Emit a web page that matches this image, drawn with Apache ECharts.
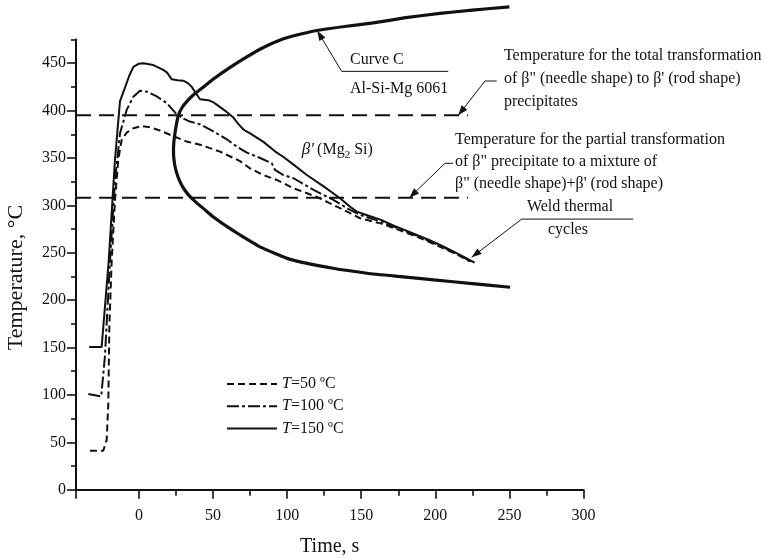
<!DOCTYPE html>
<html>
<head>
<meta charset="utf-8">
<script src="https://cdn.jsdelivr.net/npm/echarts@6/dist/echarts.min.js"></script>
<style>
  html, body { margin: 0; padding: 0; background: #ffffff; }
  #chart { width: 766px; height: 558px; }
</style>
</head>
<body>
<div id="chart"></div>
<script>
// ---- axis ticks -------------------------------------------------------
const timeTicks = [0, 50, 100, 150, 200, 250, 300];          // s
const timeMinorTicks = [25, 75, 125, 175, 225, 275];
const tempTicks = [0, 50, 100, 150, 200, 250, 300, 350, 400, 450]; // °C
const tempMinorTicks = [25, 75, 125, 175, 225, 275, 325, 375, 425, 475];

// ---- transformation temperatures (horizontal dashed lines) -------------
const totalTransformTemp = 395;    // β'' -> β'
const partialTransformTemp = 308;  // β'' -> β'' + β'
const transformSpan = [-42.5, 222];

// ---- weld thermal cycles: [time s, temperature °C] ---------------------
const weldT50 = [
  [-33.1, 41.2], [-24.1, 41.2], [-21.8, 52.5], [-20.7, 91], [-20, 172], [-18.4, 242],
  [-16.2, 305], [-14, 348], [-11.7, 369], [-8.3, 376.7], [-3.8, 381.4], [1.8, 383.7],
  [7.4, 382.4], [14.2, 379], [23.2, 373], [32.2, 367.3], [41.2, 364], [54.7, 356.7],
  [68.2, 346.7], [75, 339], [84, 332], [93, 326.8], [104.3, 318], [120, 309],
  [131.2, 300.5], [142.5, 291.7], [149.2, 286.4], [163, 281], [172, 276], [185, 268.5],
  [195, 262], [205, 255], [215, 248], [223, 241]
];
const weldT100 = [
  [-34.2, 101], [-25.5, 98.5], [-23, 140], [-19.6, 240], [-16.2, 326], [-12.8, 376],
  [-8.3, 400.7], [-3.8, 414.7], [0.7, 421], [5.2, 420], [12, 415], [18.7, 408],
  [25.5, 396], [30, 391.5], [34.4, 388.4], [41.2, 385.5], [50.2, 378], [59.3, 369.7],
  [66, 362], [72.8, 355.6], [81.8, 350], [89.6, 344.5], [91.8, 337.4], [97.5, 332],
  [104.3, 328.6], [117.8, 316.3], [131.2, 305.7], [142.5, 295.2], [149.2, 290],
  [163, 283], [172, 277.5], [185, 269.5], [195, 263], [205, 256], [215, 248.5], [224, 241]
];
const weldT150 = [
  [-33.6, 150.5], [-25.2, 150.5], [-20.5, 240], [-16.2, 348], [-12.8, 410], [-9.5, 424],
  [-6.5, 437], [-3.8, 446], [0, 449.5], [2.9, 450], [9.7, 448], [16.4, 443], [19, 440],
  [22.1, 433], [26, 432], [29.9, 431.5], [33, 429], [35.6, 425], [38.5, 418], [41.2, 412],
  [46.8, 411], [50, 409], [53.6, 405], [58, 400], [63.7, 392.6], [67, 386], [70.5, 380],
  [75, 376], [80, 371], [84, 367], [91.8, 357], [97.5, 351], [104.3, 343], [113.3, 332],
  [124.6, 320], [135.7, 307.5], [142.5, 298.6], [147, 293.4], [155, 289], [163, 285],
  [172, 278.5], [185, 270.5], [195, 264], [205, 257], [215, 249], [226.5, 239.5]
];

// ---- C-curve of Al-Si-Mg 6061 (both branches start at the nose) ---------
const curveCUpper = [
  [23.3, 357], [23.5, 366], [24.2, 375], [25.2, 385], [26.6, 395], [29, 403], [32.5, 410],
  [37, 417], [42, 423], [50, 433], [60, 444], [70, 454], [82, 465], [97, 475.5],
  [110, 481], [120, 484.5], [140, 489], [158, 492.5], [180, 498], [203, 502.5],
  [225, 506], [250, 509.5]
];
const curveCLower = [
  [23.3, 357], [23.5, 350], [24.2, 342], [25.5, 334], [27.5, 325.5], [30.5, 317],
  [34, 310], [38, 304], [44, 296], [50, 288], [60, 277], [68, 269], [82, 256],
  [102, 243], [131, 233.6], [154, 228.4], [175, 225], [199, 221.3], [225, 217.5],
  [250.5, 213.6]
];

const serif = '"Liberation Serif", "Times New Roman", serif';
const ink = '#111111';

const chart = echarts.init(document.getElementById('chart'), null, { renderer: 'canvas' });

const curveC = curveCUpper.slice().reverse().concat(curveCLower.slice(1));
const levelLine = (t) => [[transformSpan[0], t], [transformSpan[1], t]];

const weldNames = ['T=50 ºC', 'T=100 ºC', 'T=150 ºC'];

chart.setOption({
  animation: false,
  backgroundColor: '#ffffff',
  grid: {
    left: 76, right: 182.5, top: 39.5, bottom: 68.3,
    containLabel: false, outerBoundsMode: 'none'
  },
  legend: {
    data: weldNames,
    orient: 'vertical',
    left: 226,
    top: 376,
    padding: 0,
    itemWidth: 50,
    itemHeight: 14,
    itemGap: 6.2,
    itemStyle: { opacity: 0 },
    formatter: (name) => '{i|T}{n|' + name.slice(1) + '}',
    textStyle: {
      color: ink,
      rich: {
        i: { fontFamily: serif, fontSize: 16, fontStyle: 'italic', color: ink, lineHeight: 14 },
        n: { fontFamily: serif, fontSize: 16, color: ink, lineHeight: 14 }
      }
    }
  },
  xAxis: [
    {
      type: 'value', min: -42.5, max: 300, position: 'bottom',
      name: 'Time, s', nameLocation: 'middle', nameGap: 47,
      nameTextStyle: { fontFamily: serif, fontSize: 20, color: ink },
      axisLine: { show: true, onZero: false, lineStyle: { color: ink, width: 2 } },
      axisTick: { show: true, customValues: [-42.5].concat(timeTicks), length: 9, lineStyle: { color: ink, width: 1.6 } },
      axisLabel: { customValues: timeTicks, margin: 18, fontFamily: serif, fontSize: 16, color: ink },
      splitLine: { show: false }
    },
    {
      type: 'value', min: -42.5, max: 300, position: 'bottom',
      axisLine: { show: false, onZero: false },
      axisTick: { show: true, customValues: timeMinorTicks, length: 6, lineStyle: { color: ink, width: 1.6 } },
      axisLabel: { show: false },
      splitLine: { show: false }
    }
  ],
  yAxis: [
    {
      type: 'value', min: 0, max: 475, position: 'left',
      axisLine: { show: true, onZero: false, lineStyle: { color: ink, width: 2 } },
      axisTick: { show: true, customValues: tempTicks, length: 9, lineStyle: { color: ink, width: 1.6 } },
      axisLabel: { customValues: tempTicks, margin: 10, fontFamily: serif, fontSize: 16, color: ink },
      splitLine: { show: false }
    },
    {
      type: 'value', min: 0, max: 475, position: 'left',
      axisLine: { show: false, onZero: false },
      axisTick: { show: true, customValues: tempMinorTicks, length: 5, lineStyle: { color: ink, width: 1.6 } },
      axisLabel: { show: false },
      splitLine: { show: false }
    }
  ],
  series: [
    {
      name: 'total transformation', type: 'line', data: levelLine(totalTransformTemp),
      symbol: 'none', silent: true, lineStyle: { color: ink, width: 2, type: [15, 8] }
    },
    {
      name: 'partial transformation', type: 'line', data: levelLine(partialTransformTemp),
      symbol: 'none', silent: true, lineStyle: { color: ink, width: 2, type: [15, 8] }
    },
    {
      name: 'Curve C', type: 'line', data: curveC, symbol: 'none', clip: false,
      smooth: 0.15, lineStyle: { color: ink, width: 3.2 }
    },
    {
      name: weldNames[0], type: 'line', data: weldT50, symbol: 'none', clip: false,
      itemStyle: { color: ink }, lineStyle: { color: ink, width: 2, type: [7, 4] }
    },
    {
      name: weldNames[1], type: 'line', data: weldT100, symbol: 'none', clip: false,
      itemStyle: { color: ink }, lineStyle: { color: ink, width: 2, type: [12, 3, 3, 3] }
    },
    {
      name: weldNames[2], type: 'line', data: weldT150, symbol: 'none', clip: false,
      itemStyle: { color: ink }, lineStyle: { color: ink, width: 2 }
    }
  ]
});

// ---- annotations, positioned in data coordinates ------------------------
const px = (x, y) => chart.convertToPixel({ xAxisIndex: 0, yAxisIndex: 0 }, [x, y]);

function leader(points) {
  const pts = points.map((p) => px(p[0], p[1]));
  const tip = pts[pts.length - 1];
  const prev = pts[pts.length - 2];
  const ang = Math.atan2(tip[1] - prev[1], tip[0] - prev[0]);
  const len = 10, half = 3.6;
  const bx = tip[0] - len * Math.cos(ang), by = tip[1] - len * Math.sin(ang);
  const nx = -Math.sin(ang) * half, ny = Math.cos(ang) * half;
  return [
    { type: 'polyline', shape: { points: pts }, style: { stroke: ink, lineWidth: 1, fill: null }, silent: true },
    { type: 'polygon', shape: { points: [tip, [bx + nx, by + ny], [bx - nx, by - ny]] }, style: { fill: ink }, silent: true }
  ];
}

function label(x, y, text, align, extra) {
  const p = px(x, y);
  return {
    type: 'text', x: p[0], y: p[1], silent: true,
    style: Object.assign({
      text: text, fill: ink, font: '16px ' + serif,
      align: align || 'left', verticalAlign: 'middle'
    }, extra || {})
  };
}

const g = [];
// Curve C
g.push(...leader([[208.7, 441.4], [136.8, 441.4], [120.3, 484.3]]));
g.push(label(142.4, 453.4, 'Curve C'));
g.push(label(142.4, 423.5, 'Al-Si-Mg 6061'));
// total transformation
g.push(...leader([[241.4, 431.2], [233.5, 431.2], [215.5, totalTransformTemp]]));
g.push(label(246.3, 458.2, 'Temperature for the total transformation'));
g.push(label(246.3, 433.9, 'of β" (needle shape) to β\' (rod shape)'));
g.push(label(246.3, 409.7, 'precipitates'));
// partial transformation
g.push(...leader([[211.9, 344.4], [206.5, 344.4], [182.5, partialTransformTemp]]));
g.push(label(213.3, 369, 'Temperature for the partial transformation'));
g.push(label(213.3, 346.1, 'of β" precipitate to a mixture of'));
g.push(label(213.3, 323.2, 'β" (needle shape)+β\' (rod shape)'));
// weld thermal cycles
g.push(...leader([[333.6, 285.5], [258.3, 285.5], [224.5, 245.2]]));
g.push(label(290.9, 298.6, 'Weld thermal', 'center'));
g.push(label(289.5, 274, 'cycles', 'center'));
// β' phase region
(function () {
  const p = px(109.8, 358.4);
  g.push({
    type: 'text', x: p[0], y: p[1], silent: true,
    style: {
      text: '{b|β\'} {n|(Mg}{s|2}{n| Si)}',
      align: 'left', verticalAlign: 'middle',
      rich: {
        b: { fontFamily: serif, fontSize: 17, fontStyle: 'italic', fill: ink, lineHeight: 22 },
        n: { fontFamily: serif, fontSize: 16, fill: ink, lineHeight: 22 },
        s: { fontFamily: serif, fontSize: 11, fill: ink, lineHeight: 22, verticalAlign: 'bottom' }
      }
    }
  });
})();
// y-axis title
g.push({
  type: 'text', x: 16, y: 277.5, rotation: Math.PI / 2, silent: true,
  style: { text: 'Temperature, °C', fill: ink, font: '22px ' + serif, align: 'center', verticalAlign: 'middle' }
});

chart.setOption({ graphic: g });
</script>
</body>
</html>
